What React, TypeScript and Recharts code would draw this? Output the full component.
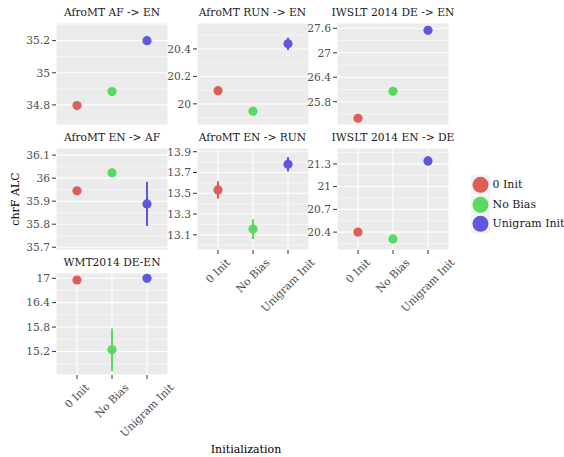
import { CartesianGrid, ErrorBar, Scatter, ScatterChart, XAxis, YAxis } from "recharts";

const initMethods = ["0 Init", "No Bias", "Unigram Init"];
const methodColors = ["#db5f57", "#57db5f", "#5f57db"];

const tasks = [
  "AfroMT AF -> EN",
  "AfroMT RUN -> EN",
  "IWSLT 2014 DE -> EN",
  "AfroMT EN -> AF",
  "AfroMT EN -> RUN",
  "IWSLT 2014 EN -> DE",
  "WMT2014 DE-EN",
];

const zeroInitMean = [34.796, 20.096, 25.396, 35.945, 13.532, 20.4, 16.958];
const noBiasMean = [34.883, 19.946, 26.055, 36.023, 13.155, 20.31, 15.24];
const unigramMean = [35.2, 20.437, 27.55, 35.888, 13.78, 21.34, 17.0];

const zeroInitErr = [0, 0, 0, 0, 0.085, 0, 0];
const noBiasErr = [0, 0, 0, 0, 0.095, 0, 0.525];
const unigramErr = [0, 0.045, 0, 0.096, 0.07, 0.06, 0];

const yTicks = [
  [34.8, 35, 35.2],
  [20, 20.2, 20.4],
  [25.8, 26.4, 27, 27.6],
  [35.7, 35.8, 35.9, 36, 36.1],
  [13.1, 13.3, 13.5, 13.7, 13.9],
  [20.4, 20.7, 21, 21.3],
  [15.2, 15.8, 16.4, 17],
];

const yDomains = [
  [34.675, 35.31],
  [19.846, 20.589],
  [25.23, 27.73],
  [35.688, 36.131],
  [12.954, 13.936],
  [20.164, 21.51],
  [14.62, 17.13],
];

const means = [zeroInitMean, noBiasMean, unigramMean];
const errs = [zeroInitErr, noBiasErr, unigramErr];

const FONT = "DejaVu Serif, Liberation Serif, serif";
const PANEL_W = 112;
const PANEL_H = 102;
const AXIS_W = 45;
const PAD = 8;
const colLeft = [56, 196.5, 337];
const rowTop = [23, 148, 273];
const labeledPanels = [4, 5, 6];

let ctx: CanvasRenderingContext2D | null = null;
function textWidth(s: string, size: number) {
  if (!ctx) ctx = document.createElement("canvas").getContext("2d");
  if (!ctx) return s.length * size * 0.55;
  ctx.font = `${size}px DejaVu Serif`;
  return ctx.measureText(s).width;
}

function minorTicks(ticks: number[], domain: number[]) {
  const step = ticks[1] - ticks[0];
  const out: number[] = [];
  for (let v = ticks[0] - step / 2; v <= domain[1]; v += step) {
    if (v >= domain[0]) out.push(+v.toFixed(4));
  }
  return out;
}

const AngledTick = (props: any) => {
  const { x, y, payload } = props;
  const label = initMethods[payload.value - 1];
  const size = 10.7;
  const off = (textWidth(label, size) + size) / (2 * Math.SQRT2) + 1;
  const cy = y + off;
  return (
    <text
      x={x}
      y={cy}
      transform={`rotate(-45 ${x} ${cy})`}
      textAnchor="middle"
      dominantBaseline="central"
      fill="#4D4D4D"
      fontSize={size}
      fontFamily={FONT}
    >
      {label}
    </text>
  );
};

function Panel({ idx }: { idx: number }) {
  const col = idx % 3;
  const row = Math.floor(idx / 3);
  const labeled = labeledPanels.includes(idx);
  const xH = labeled ? 75 : 0;
  return (
    <div style={{ position: "absolute", left: colLeft[col] - AXIS_W, top: rowTop[row] - PAD }}>
      <div
        style={{
          position: "absolute",
          left: AXIS_W - 20,
          width: PANEL_W + 40,
          top: PAD - 17,
          textAlign: "center",
          fontSize: 10.7,
          color: "#1A1A1A",
          fontFamily: FONT,
          whiteSpace: "nowrap",
        }}
      >
        {tasks[idx]}
      </div>
      <ScatterChart
        width={AXIS_W + PANEL_W + 30}
        height={PANEL_H + xH + PAD * 2}
        margin={{ top: PAD, right: 30, bottom: PAD, left: 0 }}
      >
        <CartesianGrid
          fill="#EBEBEB"
          stroke="#FFFFFF"
          strokeWidth={0.55}
          vertical={false}
          horizontalValues={minorTicks(yTicks[idx], yDomains[idx])}
        />
        <CartesianGrid stroke="#FFFFFF" strokeWidth={1.1} />
        <XAxis
          type="number"
          dataKey="x"
          domain={[0.4, 3.6]}
          ticks={[1, 2, 3]}
          interval={0}
          allowDataOverflow
          height={xH}
          axisLine={false}
          tickSize={4}
          tickMargin={2}
          tickLine={labeled ? { stroke: "#333333" } : false}
          tick={labeled ? <AngledTick /> : false}
        />
        <YAxis
          type="number"
          dataKey="y"
          domain={yDomains[idx]}
          ticks={yTicks[idx]}
          interval={0}
          allowDataOverflow
          width={AXIS_W}
          axisLine={false}
          tickSize={4}
          tickMargin={2}
          tickLine={{ stroke: "#333333" }}
          tick={{ fill: "#4D4D4D", fontSize: 10.7, fontFamily: FONT }}
          tickFormatter={(v: number) => String(v)}
        />
        {initMethods.map((m, k) => (
          <Scatter
            key={m}
            name={m}
            data={[{ x: k + 1, y: means[k][idx], err: errs[k][idx] }]}
            fill={methodColors[k]}
            isAnimationActive={false}
            shape={(p: any) => <circle cx={p.cx} cy={p.cy} r={4.6} fill={methodColors[k]} />}
          >
            <ErrorBar dataKey="err" direction="y" width={0} stroke={methodColors[k]} strokeWidth={2} />
          </Scatter>
        ))}
      </ScatterChart>
    </div>
  );
}

export default function App() {
  return (
    <div
      style={{
        position: "absolute",
        left: 0,
        top: 0,
        width: 564,
        height: 457,
        background: "#fff",
        fontFamily: FONT,
      }}
    >
      {tasks.map((t, i) => (
        <Panel key={t} idx={i} />
      ))}
      <div
        style={{
          position: "absolute",
          left: 15,
          top: 199,
          transform: "translate(-50%, -50%) rotate(-90deg)",
          fontSize: 11,
          color: "#000",
          whiteSpace: "nowrap",
        }}
      >
        chrF ALC
      </div>
      <div
        style={{
          position: "absolute",
          left: 246,
          top: 449,
          transform: "translate(-50%, -50%)",
          fontSize: 11,
          color: "#000",
          whiteSpace: "nowrap",
        }}
      >
        Initialization
      </div>
      <div style={{ position: "absolute", left: 470.5, top: 175 }}>
        {initMethods.map((m, k) => (
          <div key={m} style={{ display: "flex", alignItems: "center", height: 19.6 }}>
            <svg width={19} height={19.6} style={{ display: "block" }}>
              <rect x={0} y={0.3} width={19} height={19} fill="#F2F2F2" />
              <circle cx={9.5} cy={9.8} r={8} fill={methodColors[k]} />
            </svg>
            <span style={{ marginLeft: 3, fontSize: 11, color: "#1A1A1A", whiteSpace: "nowrap" }}>{m}</span>
          </div>
        ))}
      </div>
    </div>
  );
}
